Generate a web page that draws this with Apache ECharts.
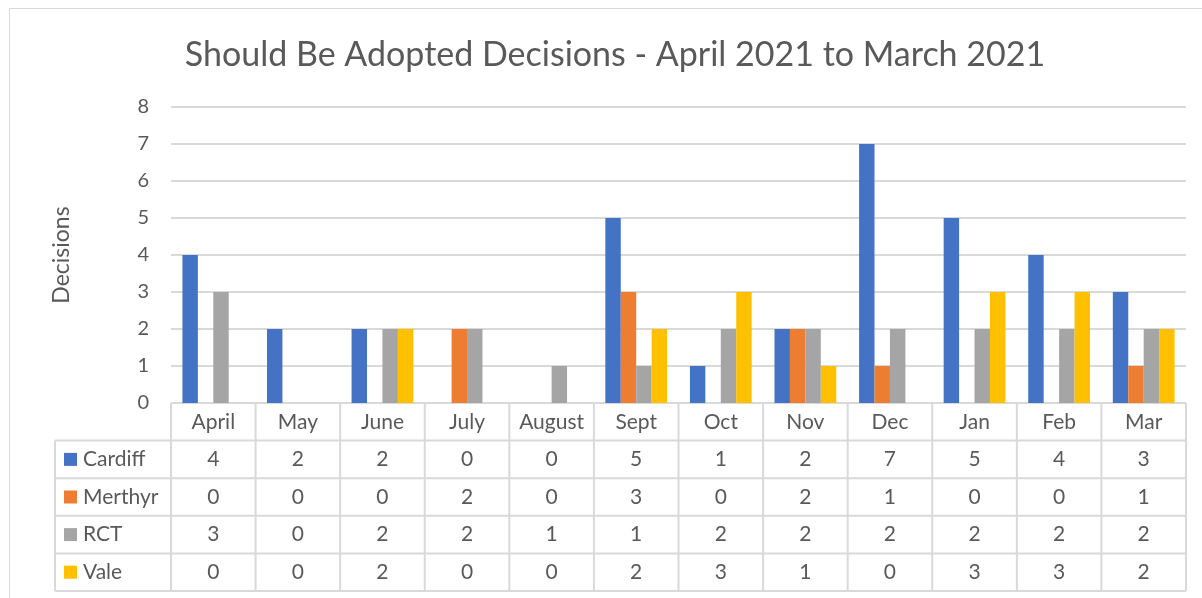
<!DOCTYPE html>
<html>
<head>
<meta charset="utf-8">
<script src="https://cdn.jsdelivr.net/npm/echarts@6/dist/echarts.min.js"></script>
<style>
  html, body { margin: 0; padding: 0; background: #fff; }
  #frame {
    position: absolute; left: 9px; top: 8px; width: 1300px; height: 700px;
    border: 1px solid #d9d9d9; box-sizing: border-box;
  }
  #main { position: absolute; left: 0; top: 0; width: 1202px; height: 598px; }
</style>
</head>
<body>
<div id="frame"></div>
<div id="main"></div>
<script>
// categories and series
const months = ["April", "May", "June", "July", "August", "Sept", "Oct", "Nov", "Dec", "Jan", "Feb", "Mar"];
const cardiff = [4, 2, 2, 0, 0, 5, 1, 2, 7, 5, 4, 3];
const merthyr = [0, 0, 0, 2, 0, 3, 0, 2, 1, 0, 0, 1];
const rct = [3, 0, 2, 2, 1, 1, 2, 2, 2, 2, 2, 2];
const vale = [0, 0, 2, 0, 0, 2, 3, 1, 0, 3, 3, 2];

const seriesNames = ["Cardiff", "Merthyr", "RCT", "Vale"];
const seriesData = [cardiff, merthyr, rct, vale];
const colors = ["#4472C4", "#ED7D31", "#A5A5A5", "#FFC000"];

const font = "Lato, 'Open Sans', sans-serif";
const textColor = "#595959";
const lineColor = "#d9d9d9";

let myChart = echarts.init(document.getElementById("main"));

let option = {
  animation: false,
  title: {
    text: "Should Be Adopted Decisions - April 2021 to March 2021",
    left: 610,
    textAlign: "center",
    top: 33,
    textStyle: { fontFamily: font, fontSize: 34, fontWeight: "normal", color: textColor }
  },
  grid: { left: 171, right: 16, top: 107, bottom: 195 },
  xAxis: {
    type: "category",
    data: months,
    axisLine: { show: false },
    axisTick: { show: false },
    axisLabel: { show: false }
  },
  yAxis: {
    type: "value",
    min: 0,
    max: 8,
    interval: 1,
    name: "Decisions",
    nameLocation: "middle",
    nameGap: 98,
    nameTextStyle: { fontFamily: font, fontSize: 23, color: textColor },
    axisLine: { show: false },
    axisTick: { show: false },
    axisLabel: { fontFamily: font, fontSize: 20, color: textColor, margin: 22 },
    splitLine: { lineStyle: { color: lineColor, width: 2 } }
  },
  series: seriesNames.map((name, i) => ({
    name: name,
    type: "bar",
    data: seriesData[i],
    barGap: "0%",
    barCategoryGap: "27%",
    itemStyle: { color: colors[i] }
  }))
};

myChart.setOption(option);

// data table under the plot, positioned from the x axis scale
function drawTable() {
  let elements = [];
  let top = myChart.convertToPixel({ yAxisIndex: 0 }, 0);
  let c0 = myChart.convertToPixel({ xAxisIndex: 0 }, 0);
  let c1 = myChart.convertToPixel({ xAxisIndex: 0 }, 1);
  let band = c1 - c0;
  let leftEdge = c0 - band / 2;
  let rightEdge = leftEdge + band * months.length;
  let rowH = 37.6;
  let tableLeft = 55;
  let bottom = top + rowH * (seriesNames.length + 1);
  let lineStyle = { stroke: lineColor, lineWidth: 2 };
  let fs = 21;

  // horizontal lines
  elements.push({ type: "line", shape: { x1: leftEdge, y1: top, x2: rightEdge, y2: top }, style: lineStyle });
  for (let r = 1; r <= seriesNames.length + 1; r++) {
    let y = top + rowH * r;
    elements.push({ type: "line", shape: { x1: tableLeft, y1: y, x2: rightEdge, y2: y }, style: lineStyle });
  }
  // vertical lines
  elements.push({ type: "line", shape: { x1: tableLeft, y1: top + rowH, x2: tableLeft, y2: bottom }, style: lineStyle });
  for (let c = 0; c <= months.length; c++) {
    let x = leftEdge + band * c;
    elements.push({ type: "line", shape: { x1: x, y1: top, x2: x, y2: bottom }, style: lineStyle });
  }
  // header
  months.forEach((m, c) => {
    elements.push({
      type: "text",
      x: leftEdge + band * (c + 0.5),
      y: top + rowH / 2,
      style: { text: m, fontFamily: font, fontSize: fs, fill: textColor, align: "center", verticalAlign: "middle" }
    });
  });
  // rows
  seriesNames.forEach((name, r) => {
    let yMid = top + rowH * (r + 1.5);
    elements.push({ type: "rect", shape: { x: 64, y: yMid - 6.5, width: 13, height: 13 }, style: { fill: colors[r] } });
    elements.push({
      type: "text", x: 83, y: yMid,
      style: { text: name, fontFamily: font, fontSize: fs, fill: textColor, align: "left", verticalAlign: "middle" }
    });
    seriesData[r].forEach((v, c) => {
      elements.push({
        type: "text",
        x: leftEdge + band * (c + 0.5),
        y: yMid,
        style: { text: String(v), fontFamily: font, fontSize: fs, fill: textColor, align: "center", verticalAlign: "middle" }
      });
    });
  });
  myChart.setOption({ graphic: { elements: elements } });
}

drawTable();
</script>
</body>
</html>
